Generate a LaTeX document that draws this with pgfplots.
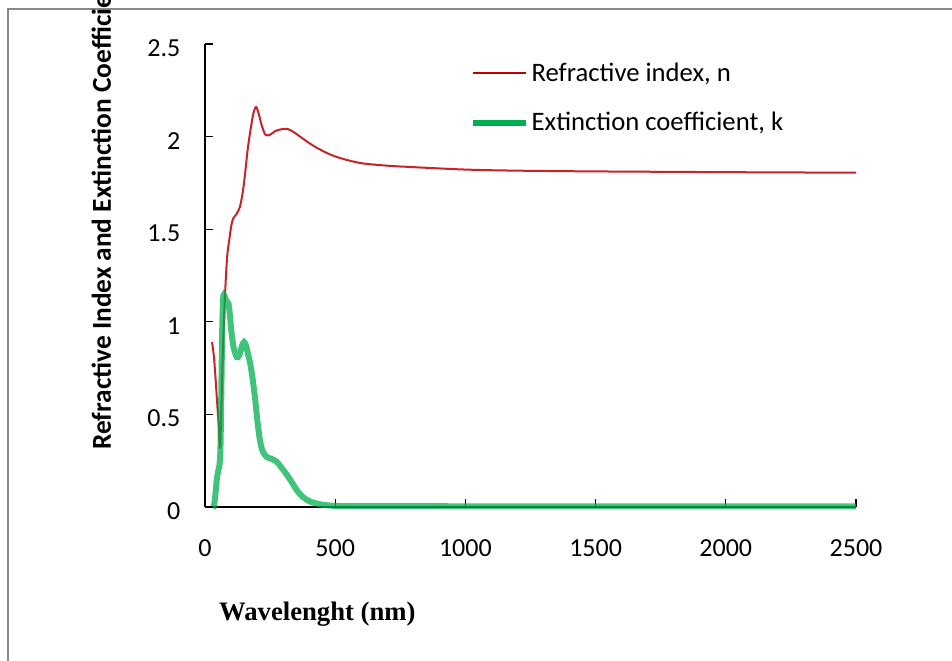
\documentclass[border=0pt]{standalone}
\usepackage{fontspec}
\setmainfont{Carlito}
\newfontfamily\tnr{Liberation Serif}
\usepackage{pgfplots}
\pgfplotsset{compat=1.18}
\definecolor{nred}{RGB}{200,35,40}
\definecolor{lred}{RGB}{192,0,0}
\definecolor{kgreen}{RGB}{0,176,80}
\definecolor{frame}{RGB}{136,136,136}
\begin{document}
\begin{tikzpicture}
\useasboundingbox (0,0) rectangle (714pt,495pt);
\clip (0,0) rectangle (714pt,495pt);
\fill[white] (0,0) rectangle (714pt,495pt);
\draw[frame, line width=1.5pt] (6pt,-5pt) -- (6pt,488.25pt) -- (720pt,488.25pt);
\begin{axis}[
  scale only axis,
  width=488.25pt, height=347.25pt,
  at={(153.75pt,114.75pt)}, anchor=south west,
  xmin=0, xmax=2500, ymin=0, ymax=2.5,
  axis lines*=left,
  axis line style={line width=1pt, -},
  tick align=inside,
  major tick length=6pt,
  every tick/.style={black, line width=0.9pt},
  xtick={0,500,...,2500},
  ytick={0,0.5,...,2.5},
  yticklabels={0,0.5,1,1.5,2,2.5},
  scaled x ticks=false,
  /pgf/number format/assume math mode=true,
  /pgf/number format/set thousands separator={},
  tick label style={font=\fontsize{19.5}{23}\selectfont},
  xticklabel style={yshift=-21pt},
  yticklabel style={xshift=-15pt, yshift=-3pt},
  clip=false,
  legend cell align=left,
  legend style={draw=none, fill=none, at={(0.40,0.972)}, anchor=north west,
    font=\fontsize{20}{24}\selectfont, row sep=18pt},
  legend image code/.code={\draw[#1] (0pt,0pt) -- (40pt,0pt);},
]
\addplot[nred, line width=1.5pt, smooth, forget plot] coordinates {
(27,0.89) (35,0.80) (45,0.60) (52,0.45) (58,0.32) (63,0.55) (70,0.90) (77,1.15)
(85,1.35) (93,1.44) (101,1.52) (109,1.56) (120,1.58) (134,1.62) (145,1.70) (154,1.80)
(163,1.92) (173,2.02) (185,2.12) (196,2.16) (207,2.12) (218,2.06) (232,2.01) (250,2.01)
(270,2.03) (295,2.04) (320,2.04) (345,2.02) (365,2.00) (400,1.965) (429,1.94) (470,1.91)
(506,1.89) (550,1.872) (607,1.855) (700,1.843) (800,1.835) (1000,1.822) (1200,1.816)
(1500,1.812) (2000,1.808) (2500,1.805)};
\addplot[kgreen, opacity=0.75, line width=4.5pt, smooth, forget plot] coordinates {
(30,0) (35,0.01) (40,0.07) (45,0.145) (50,0.19) (55,0.22) (59,0.30) (62,0.55) (66,0.95)
(70,1.13) (75,1.14) (82,1.11) (90,1.10) (96,1.03) (102,0.94) (110,0.86) (122,0.81)
(132,0.82) (142,0.87) (150,0.89) (158,0.87) (166,0.82) (173,0.78) (182,0.70) (192,0.59)
(200,0.48) (211,0.36) (222,0.30) (237,0.27) (255,0.26) (275,0.245) (295,0.21) (314,0.175)
(335,0.13) (352,0.092) (375,0.055) (403,0.03) (440,0.015) (480,0.008) (550,0.005)
(1000,0.004) (2500,0.004)};
\addlegendimage{lred, line width=1.5pt}
\addlegendentry{Refractive index, n}
\addlegendimage{kgreen, line width=4.5pt}
\addlegendentry{Extinction coefficient, k}
\end{axis}
\node[rotate=90, anchor=west, font=\fontsize{20.5}{24}\selectfont\bfseries, inner sep=0pt]
  at (76pt,157.5pt) {Refractive Index and Extinction Coefficient};
\node[font=\tnr\fontsize{20}{24}\selectfont\bfseries, inner sep=0pt]
  at (238pt,34pt) {Wavelenght (nm)};
\end{tikzpicture}
\end{document}
